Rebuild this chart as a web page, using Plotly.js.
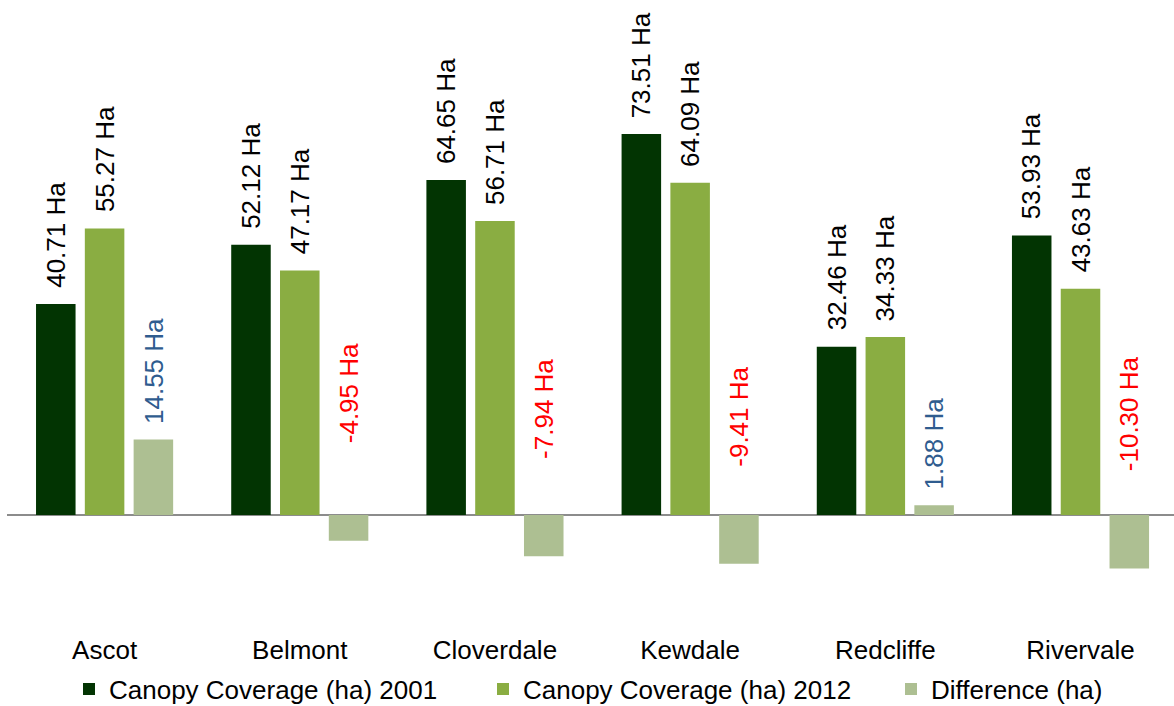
<!DOCTYPE html>
<html>
<head>
<meta charset="utf-8">
<script src="https://cdn.plot.ly/plotly-3.0.1.min.js"></script>
<style>html,body{margin:0;padding:0;background:#fff;}#chart{width:1174px;height:706px;}</style>
</head>
<body>
<div id="chart"></div>
<script>
const suburbs = ["Ascot", "Belmont", "Cloverdale", "Kewdale", "Redcliffe", "Rivervale"];
const canopy2001 = [40.71, 52.12, 64.65, 73.51, 32.46, 53.93];
const canopy2012 = [55.27, 47.17, 56.71, 64.09, 34.33, 43.63];
const difference = [14.55, -4.95, -7.94, -9.41, 1.88, -10.30];
const seriesNames = ["Canopy Coverage (ha) 2001", "Canopy Coverage (ha) 2012", "Difference (ha)"];
const seriesColors = ["#023402", "#8AAD42", "#ADBF92"];

const allSeries = [canopy2001, canopy2012, difference];
const FONT = "Liberation Sans, Arial, sans-serif";
const legendIds = ["legend", "legend2", "legend3"];
const legendTextX = [109, 523, 931];

const traces = allSeries.map((vals, i) => ({
  type: "bar",
  x: suburbs,
  y: vals,
  name: seriesNames[i],
  legend: legendIds[i],
  marker: {color: seriesColors[i]},
  hoverinfo: "x+y+name"
}));

const bargap = 0.25;
const slot = (1 - bargap) / 3;
const annotations = [];
allSeries.forEach((vals, s) => {
  vals.forEach((v, k) => {
    let color = "#000000";
    if (s === 2) color = v >= 0 ? "#2F5C8F" : "#FF0000";
    annotations.push({
      xref: "x", yref: "y",
      x: k + (s - 1) * slot,
      y: v,
      text: v.toFixed(2) + " Ha",
      textangle: -90,
      showarrow: false,
      xanchor: "center",
      yanchor: "bottom",
      yshift: v >= 0 ? 14 : 95,
      font: {family: FONT, size: 26, color: color}
    });
  });
});

const W = 1174, H = 706;
const layout = {
  width: W, height: H,
  margin: {l: 7, r: 0, t: 0, b: 81, pad: 0},
  paper_bgcolor: "#ffffff",
  plot_bgcolor: "#ffffff",
  barmode: "group",
  bargap: bargap,
  bargroupgap: 0.19,
  showlegend: true,
  xaxis: {
    type: "category",
    range: [-0.5, 5.479],
    showgrid: false, showline: false, zeroline: false,
    ticks: "",
    ticklabelstandoff: 7,
    tickfont: {family: FONT, size: 26, color: "#000"},
    fixedrange: true
  },
  yaxis: {
    range: [-21.22, 99.36],
    showgrid: false, showline: false,
    showticklabels: false, ticks: "",
    zeroline: true, zerolinecolor: "#8C8C8C", zerolinewidth: 2,
    fixedrange: true
  },
  annotations: annotations,
  font: {family: FONT}
};
legendIds.forEach((id, i) => {
  layout[id] = {
    orientation: "h",
    xref: "container", yref: "container",
    x: (legendTextX[i] - 40) / W, xanchor: "left",
    y: 17 / H, yanchor: "middle",
    font: {family: FONT, size: 26, color: "#000"},
    bgcolor: "rgba(0,0,0,0)",
    itemclick: false
  };
});

Plotly.newPlot("chart", traces, layout, {displayModeBar: false, staticPlot: true});
</script>
</body>
</html>
